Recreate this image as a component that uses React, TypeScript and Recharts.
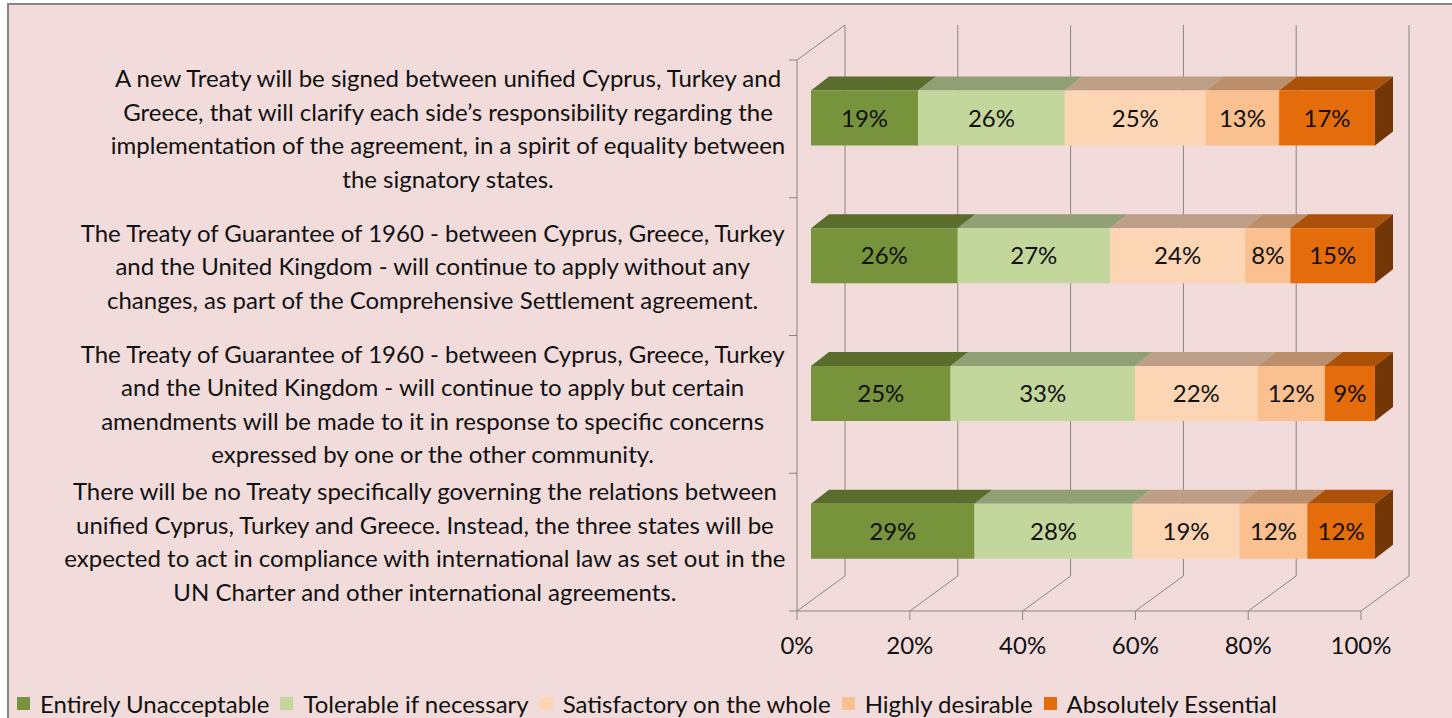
import React from 'react';
import { BarChart, Bar, XAxis, YAxis, CartesianGrid, Legend } from 'recharts';

// statements shown on the category axis, broken into lines like the original
const statements = [
  [
    'A new Treaty will be signed between unified Cyprus, Turkey and',
    'Greece, that will clarify each side’s responsibility regarding the',
    'implementation of the agreement, in a spirit of equality between',
    'the signatory states.',
  ],
  [
    'The Treaty of Guarantee of 1960 - between Cyprus, Greece, Turkey',
    'and the United Kingdom - will continue to apply without any',
    'changes, as part of the Comprehensive Settlement agreement.',
  ],
  [
    'The Treaty of Guarantee of 1960 - between Cyprus, Greece, Turkey',
    'and the United Kingdom - will continue to apply but certain',
    'amendments will be made to it in response to specific concerns',
    'expressed by one or the other community.',
  ],
  [
    'There will be no Treaty specifically governing the relations between',
    'unified Cyprus, Turkey and Greece. Instead, the three states will be',
    'expected to act in compliance with international law as set out in the',
    'UN Charter and other international agreements.',
  ],
];

const entirelyUnacceptable = [19, 26, 25, 29];
const tolerableIfNecessary = [26, 27, 33, 28];
const satisfactoryOnTheWhole = [25, 24, 22, 19];
const highlyDesirable = [13, 8, 12, 12];
const absolutelyEssential = [17, 15, 9, 12];

const seriesNames = [
  'Entirely Unacceptable',
  'Tolerable if necessary',
  'Satisfactory on the whole',
  'Highly desirable',
  'Absolutely Essential',
];
const seriesValues = [
  entirelyUnacceptable,
  tolerableIfNecessary,
  satisfactoryOnTheWhole,
  highlyDesirable,
  absolutelyEssential,
];
const percentTicks = [0, 0.2, 0.4, 0.6, 0.8, 1];

// front / top / side colours of the 3d blocks
const seriesColors = [
  { front: '#77933c', top: '#5a6d2d', side: '#435221' },
  { front: '#c3d69b', top: '#919f74', side: '#6c7756' },
  { front: '#fcd5b5', top: '#bd9f88', side: '#8d7766' },
  { front: '#fac090', top: '#bb8f6b', side: '#8c6b50' },
  { front: '#e46c0a', top: '#ab5108', side: '#733606' },
];

const data = statements.map((_, i) => {
  const row: Record<string, any> = { name: `s${i}` };
  seriesValues.forEach((vals, k) => {
    row[`v${k}`] = vals[i];
  });
  return row;
});

const W = 1452;
const H = 718;
const PLOT_TOP = 60;
const PLOT_LEFT = 797;
const RIGHT_GAP = 91;
const LEGEND_H = 30;
const XAXIS_H = 77;
const BAND_H = (H - PLOT_TOP - LEGEND_H - XAXIS_H) / statements.length;
const LABEL_RIGHT = 786;
const LINE_STEP = 33.5;

const FONT = 'Lato, "Open Sans", sans-serif';
const FS = 24;
const BASE_SHIFT = 8.5; // text centre -> baseline
const GRID = '#868686';
const BG = '#f2dcdb';

// fake 3d: bars sit a little into the depth, walls at the back
const BAR_SHIFT_X = 14;
const BAR_SHIFT_Y = 10.5;
const BAR_DX = 18;
const BAR_DY = 14;
const WALL_DX = 48;
const WALL_DY = 35;

let measureCtx: CanvasRenderingContext2D | null = null;
function textWidth(s: string) {
  if (!measureCtx) measureCtx = document.createElement('canvas').getContext('2d');
  if (!measureCtx) return s.length * FS * 0.5;
  measureCtx.font = `${FS}px ${FONT}`;
  return measureCtx.measureText(s).width;
}

function StatementTick(props: any) {
  const { y, payload } = props;
  const i = data.findIndex((d) => d.name === payload.value);
  const lines = statements[i] || [];
  const maxW = Math.max(...lines.map(textWidth));
  const cx = LABEL_RIGHT - maxW / 2;
  const n = lines.length;
  return (
    <g>
      <line x1={PLOT_LEFT - 8} x2={PLOT_LEFT} y1={y - BAND_H / 2} y2={y - BAND_H / 2} stroke={GRID} />
      {i === statements.length - 1 && (
        <line x1={PLOT_LEFT - 8} x2={PLOT_LEFT} y1={y + BAND_H / 2} y2={y + BAND_H / 2} stroke={GRID} />
      )}
      {lines.map((line, k) => (
        <text
          key={k}
          x={cx}
          y={y + (k - (n - 1) / 2) * LINE_STEP + BASE_SHIFT}
          textAnchor="middle"
          fontFamily={FONT}
          fontSize={FS}
          fill="#111"
        >
          {line}
        </text>
      ))}
    </g>
  );
}

function PercentTick(props: any) {
  const { x, y, payload } = props;
  return (
    <text x={x} y={y + 32} textAnchor="middle" fontFamily={FONT} fontSize={FS} fill="#111">
      {`${Math.round(payload.value * 100)}%`}
    </text>
  );
}

function wallLine(p: any) {
  const { x1, y1, y2 } = p;
  return (
    <g key={p.key}>
      <line x1={x1 + WALL_DX} y1={y1 - WALL_DY} x2={x1 + WALL_DX} y2={y2 - WALL_DY} stroke={GRID} />
      <line x1={x1} y1={y2} x2={x1 + WALL_DX} y2={y2 - WALL_DY} stroke={GRID} />
      {Math.abs(x1 - PLOT_LEFT) < 1 && (
        <line x1={x1} y1={y1} x2={x1 + WALL_DX} y2={y1 - WALL_DY} stroke={GRID} />
      )}
    </g>
  );
}

function makeBlock(k: number) {
  const c = seriesColors[k];
  const last = k === seriesValues.length - 1;
  return (p: any) => {
    const { width, height, index } = p;
    if (!width || width <= 0) return <g />;
    const x = p.x + BAR_SHIFT_X;
    const y = p.y - BAR_SHIFT_Y;
    const top = `${x},${y} ${x + BAR_DX},${y - BAR_DY} ${x + width + BAR_DX},${y - BAR_DY} ${x + width},${y}`;
    const side = `${x + width},${y} ${x + width + BAR_DX},${y - BAR_DY} ${x + width + BAR_DX},${y + height - BAR_DY} ${x + width},${y + height}`;
    return (
      <g>
        <polygon points={top} fill={c.top} />
        {last && <polygon points={side} fill={c.side} />}
        <rect x={x} y={y} width={width} height={height} fill={c.front} />
        <text
          x={x + width / 2}
          y={y + height / 2 + BASE_SHIFT}
          textAnchor="middle"
          fontFamily={FONT}
          fontSize={FS}
          fill="#111"
        >
          {`${seriesValues[k][index]}%`}
        </text>
      </g>
    );
  };
}

function LegendRow() {
  return (
    <div
      style={{
        height: LEGEND_H,
        display: 'flex',
        alignItems: 'center',
        paddingLeft: 17,
        fontFamily: FONT,
        fontSize: FS,
        color: '#111',
        whiteSpace: 'nowrap',
      }}
    >
      {seriesNames.map((name, k) => (
        <span key={name} style={{ display: 'flex', alignItems: 'center', marginRight: 11 }}>
          <span style={{ width: 13, height: 13, background: seriesColors[k].front, marginRight: 10 }} />
          {name}
        </span>
      ))}
    </div>
  );
}

export default function App() {
  return (
    <div style={{ position: 'fixed', left: 0, top: 0, width: W, height: H, background: '#fff', overflow: 'hidden' }}>
      <div
        style={{
          position: 'absolute',
          left: 7,
          top: 3,
          width: W,
          height: H,
          background: BG,
          borderLeft: `2px solid ${GRID}`,
          borderTop: `2px solid ${GRID}`,
        }}
      />
      <div style={{ position: 'absolute', left: 0, top: 0 }}>
        <BarChart
          width={W}
          height={H}
          data={data}
          layout="vertical"
          stackOffset="expand"
          barSize={55}
          margin={{ top: PLOT_TOP, right: RIGHT_GAP, bottom: 0, left: 0 }}
        >
          <CartesianGrid horizontal={false} vertical={wallLine} />
          <XAxis
            type="number"
            domain={[0, 1]}
            ticks={percentTicks}
            height={XAXIS_H}
            tickSize={9}
            stroke={GRID}
            tick={<PercentTick />}
          />
          <YAxis
            type="category"
            dataKey="name"
            width={PLOT_LEFT}
            tickLine={false}
            stroke={GRID}
            tick={<StatementTick />}
          />
          {seriesNames.map((name, k) => (
            <Bar
              key={name}
              dataKey={`v${k}`}
              name={name}
              stackId="a"
              isAnimationActive={false}
              shape={makeBlock(k)}
            />
          ))}
          <Legend verticalAlign="bottom" align="left" content={<LegendRow />} />
        </BarChart>
      </div>
    </div>
  );
}
